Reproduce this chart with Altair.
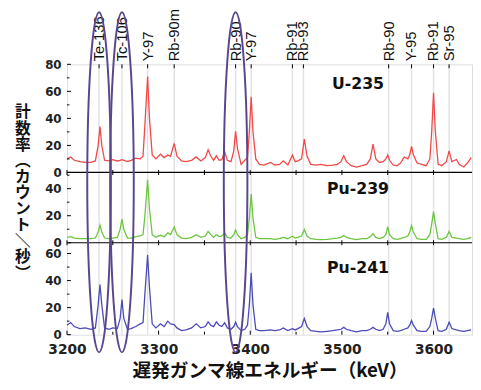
import altair as alt
import pandas as pd

# ---------------- data ----------------
energy_kev = [
    3200, 3204, 3208, 3214, 3220, 3226, 3231, 3234, 3236, 3238,
    3241, 3246, 3250, 3255, 3258, 3260, 3262, 3266, 3270, 3275,
    3280, 3283, 3285, 3288, 3290, 3293, 3297, 3302, 3306, 3310,
    3313, 3317, 3320, 3325, 3330, 3336, 3341, 3346, 3351, 3354,
    3357, 3360, 3363, 3366, 3369, 3372, 3375, 3379, 3382, 3384,
    3386, 3390, 3394, 3397, 3399, 3401, 3403, 3406, 3410, 3415,
    3422, 3427, 3432, 3436, 3441, 3446, 3449, 3452, 3456, 3459,
    3462, 3466, 3472, 3477, 3484, 3490, 3495, 3499, 3502, 3505,
    3510, 3516, 3522, 3527, 3531, 3534, 3537, 3541, 3545, 3548,
    3550, 3552, 3556, 3560, 3564, 3568, 3572, 3574, 3576, 3578,
    3582, 3587, 3592, 3596, 3598, 3600, 3602, 3605, 3609, 3614,
    3617, 3620, 3625, 3628, 3633, 3637, 3641,
]
u235_counts = [
    10, 11.5, 9, 8, 7.5, 7.5, 8.5, 20, 34, 20,
    9, 8.5, 9.5, 8.5, 9, 9.5, 9, 8, 9, 10.5,
    10, 12, 35, 71, 40, 13, 10, 13.5, 11, 13,
    12, 21.5, 12, 8.5, 8, 9, 11.5, 8.5, 11, 16.8,
    12, 9, 12.3, 9, 9.5, 15.5, 9, 8, 16, 30.5,
    18, 6, 9, 11, 30, 56, 30, 10, 6, 5.5,
    7.4, 5.5, 6, 8.6, 5.5, 12.8, 8, 8.6, 10, 24.7,
    12, 6, 5.5, 6, 5, 5.5, 6, 8, 12.3, 8,
    5, 4, 5, 6, 10, 21, 10, 7.4, 8, 10,
    13, 9, 5.5, 5, 7, 11.4, 10, 13, 19.2, 13,
    7, 6, 5, 10, 30, 59, 30, 6, 5, 8,
    16, 8, 9.6, 6, 4, 7, 11,
]
pu239_counts = [
    4, 4.5, 3.5, 3, 3, 3, 3.5, 8, 13, 8,
    3.5, 3, 3.5, 4, 10, 17.5, 10, 3.5, 3.5, 4.5,
    5, 6, 20, 46.5, 25, 6, 4, 5.5, 4.5, 7.3,
    6, 11.5, 6, 3.5, 3, 4, 6, 4, 5, 8.5,
    6, 4, 6, 4.5, 5, 7.3, 4, 3.5, 6, 9.5,
    6, 3, 4, 6, 18, 36, 18, 4, 3, 3,
    3, 2.5, 3, 4, 3, 4.8, 3.5, 4, 5, 9.7,
    5, 3, 2.5, 2.3, 2.5, 3, 3.5, 4, 5.4, 4,
    3, 2.3, 3, 3, 4.5, 6.6, 4, 3, 4, 6,
    12, 6, 3, 2.5, 3, 4, 5, 8, 12.7, 8,
    3, 2.5, 2.5, 6, 14, 23, 14, 3, 2.5, 4,
    8.3, 4, 3.5, 3, 2.5, 3, 4,
]
pu241_counts = [
    7, 9, 6, 4.5, 5, 4, 5, 22, 37, 22,
    5, 4, 5, 4.5, 12, 26, 12, 4, 4.5, 6,
    8, 9, 30, 59, 35, 8, 5, 8, 6, 10,
    8, 7.5, 5, 3, 3.5, 5, 8, 5, 6, 9.5,
    7, 6, 9.5, 7, 6, 8.8, 5, 4, 6, 9.2,
    6, 3, 4, 7, 22, 45.7, 22, 4, 3, 3,
    3.5, 3, 3.5, 5, 3, 4.5, 3.5, 4.5, 6, 12,
    6, 3, 2.5, 2, 2.5, 3, 3.5, 4, 5.4, 4,
    3, 2, 3, 3, 4, 5.4, 4, 3, 4, 8,
    16.5, 8, 3, 2.5, 3, 4, 5, 7, 10.5, 7,
    3, 2.5, 2.5, 6, 12, 19.7, 12, 3, 2.5, 4,
    9.2, 4.5, 3.5, 3, 2.5, 3, 3.5,
]

series_names = ["U-235", "Pu-239", "Pu-241"]
series_values = [u235_counts, pu239_counts, pu241_counts]
series_colors = ["#f24848", "#6cc63f", "#4a4ab8"]

# stacked layout: each panel's zero line on one shared count axis
panel_zero = [120, 68, 0]
stack_top = 200
panel_major = [[0, 20, 40, 60, 80], [0, 20, 40], [0, 20, 40, 60]]
panel_minor = [[10, 30, 50, 70], [10, 30, 50], [10, 30, 50]]
panel_label_y = [20, 127, 207]

nuclide_names = ["Te-136", "Tc-106", "Y-97", "Rb-90m", "Rb-90", "Y-97",
                 "Rb-91", "Rb-93", "Rb-90", "Y-95", "Rb-91", "Sr-95"]
nuclide_kev = [3235, 3260, 3288, 3317, 3384, 3401,
               3446, 3458, 3551, 3576, 3600, 3617]
circled_kev = [3235, 3260, 3384]

x_major = [3200, 3300, 3400, 3500, 3600]
x_minor = [3250, 3350, 3450, 3550]

x_title = "遅発ガンマ線エネルギー（keV）"
y_title_chars = ["計", "数", "率", "︵", "カ", "ウ", "ン", "ト", "＼", "秒", "︶"]

# ---------------- layout / style ----------------
W, H = 412, 275
LATIN = "Liberation Sans"
WIDE = "DejaVu Sans"
CJK = "Noto Sans CJK JP"

rows = []
for name, vals, z in zip(series_names, series_values, panel_zero):
    for e, v in zip(energy_kev, vals):
        rows.append({"series": name, "energy": e, "count": v, "pos": v + z})
spec_df = pd.DataFrame(rows)

xscale = alt.Scale(domain=[3200, 3642], nice=False, zero=False)
yscale = alt.Scale(domain=[0, stack_top], nice=False, zero=True)

label_expr = (f"datum.value >= {panel_zero[0]} ? datum.value - {panel_zero[0]} : "
              f"datum.value >= {panel_zero[1]} ? datum.value - {panel_zero[1]} : datum.value")

y_major_vals = [z + v for z, vs in zip(panel_zero, panel_major) for v in vs]
y_minor_vals = [z + v for z, vs in zip(panel_zero, panel_minor) for v in vs]

x_axis = alt.Axis(values=x_major, format="d", ticks=False, tickSize=0, domain=False,
                  grid=False, labelFont=WIDE, labelFontSize=14, labelFontWeight="bold",
                  labelColor="#222", labelPadding=8, labelFlush=False,
                  title=x_title, titleFont=CJK, titleFontSize=19,
                  titleFontWeight="bold", titleColor="#111", titlePadding=6)
y_axis = alt.Axis(values=y_major_vals, labelExpr=label_expr, ticks=False, tickSize=0,
                  domain=False, grid=False, labelOverlap=False, labelFont=WIDE,
                  labelFontSize=12, labelFontWeight="bold", labelColor="#222",
                  labelPadding=6, title=None)


def X(field="energy:Q"):
    return alt.X(field, scale=xscale, axis=x_axis)


def Y(field="pos:Q"):
    return alt.Y(field, scale=yscale, axis=y_axis)


spectra = alt.Chart(spec_df).mark_line(strokeWidth=1.3).encode(
    x=X(),
    y=Y(),
    color=alt.Color("series:N", scale=alt.Scale(domain=series_names, range=series_colors),
                    legend=None),
    detail="series:N",
)

nuc_df = pd.DataFrame({"name": nuclide_names, "energy": nuclide_kev})

guide_lines = alt.Chart(nuc_df).mark_rule(color="#e2e2e2", strokeWidth=1.5).encode(x=X())

nuc_ticks = alt.Chart(nuc_df).mark_rule(color="black", strokeWidth=1).encode(
    x=X(), y=alt.value(0), y2=alt.value(4)
)

nuc_labels = alt.Chart(nuc_df).mark_text(
    angle=270, align="left", baseline="middle", font=LATIN, fontSize=15, color="#111"
).encode(x=X(), y=alt.value(-3), text="name:N")

sep_df = pd.DataFrame({"pos": panel_zero[:2]})
separators = alt.Chart(sep_df).mark_rule(color="black", strokeWidth=1.2).encode(y=Y())

sep_tick_df = pd.DataFrame([{"energy": e, "pos": z} for z in panel_zero[:2]
                            for e in x_major + x_minor])
sep_ticks = alt.Chart(sep_tick_df).mark_tick(orient="vertical", size=5, thickness=1,
                                             color="black", opacity=1).encode(x=X(), y=Y())

xmaj_df = pd.DataFrame({"energy": x_major})
xmin_df = pd.DataFrame({"energy": x_minor})
x_major_ticks = alt.Chart(xmaj_df).mark_rule(color="black").encode(
    x=X(), y=alt.value(H), y2=alt.value(H - 4))
x_minor_ticks = alt.Chart(xmin_df).mark_rule(color="black").encode(
    x=X(), y=alt.value(H), y2=alt.value(H - 3))

ymaj_df = pd.DataFrame({"pos": y_major_vals})
ymin_df = pd.DataFrame({"pos": y_minor_vals})
y_major_ticks = alt.Chart(ymaj_df).mark_rule(color="black").encode(
    y=Y(), x=alt.value(0), x2=alt.value(4))
y_minor_ticks = alt.Chart(ymin_df).mark_rule(color="black").encode(
    y=Y(), x=alt.value(0), x2=alt.value(2.5))

panel_labels = []
for name, py in zip(series_names, panel_label_y):
    panel_labels.append(
        alt.Chart(pd.DataFrame({"name": [name]})).mark_text(
            font=WIDE, fontSize=16, fontWeight="bold", color="#111",
            align="center", baseline="middle"
        ).encode(x=alt.value(296), y=alt.value(py), text="name:N")
    )

y_title = alt.Chart(pd.DataFrame({"t": ["\n".join(y_title_chars)]})).mark_text(
    font=CJK, fontSize=16, fontWeight="bold", color="#111", lineBreak="\n",
    lineHeight=16.4, align="center", baseline="middle"
).encode(x=alt.value(-45), y=alt.value(49), text="t:N")

# ellipse outline (custom symbol path within [-1, 1])
half_w, half_h = 12.0, 173.0
a = half_w / half_h
k = 0.5523
ka = k * a
ellipse_path = (f"M0,-1 C{ka:.4f},-1 {a:.4f},{-k} {a:.4f},0 "
                f"C{a:.4f},{k} {ka:.4f},1 0,1 "
                f"C{-ka:.4f},1 {-a:.4f},{k} {-a:.4f},0 "
                f"C{-a:.4f},{-k} {-ka:.4f},-1 0,-1 Z")
ellipses = alt.Chart(pd.DataFrame({"energy": circled_kev})).mark_point(
    shape=ellipse_path, size=(2 * half_h) ** 2, filled=False, stroke="#5a468f",
    strokeWidth=2, opacity=1
).encode(x=X(), y=alt.value(120))

chart = alt.layer(
    guide_lines, spectra, separators, sep_ticks, nuc_ticks,
    x_major_ticks, x_minor_ticks, y_major_ticks, y_minor_ticks,
    nuc_labels, *panel_labels, y_title, ellipses
).properties(
    width=W, height=H,
    autosize=alt.AutoSizeParams(type="none"),
    padding={"left": 60, "top": 54, "right": 1, "bottom": 53},
).configure_view(stroke="black", strokeWidth=1.2).configure(background="white")

chart.save("out.html", embed_options={"renderer": "svg", "actions": False})
